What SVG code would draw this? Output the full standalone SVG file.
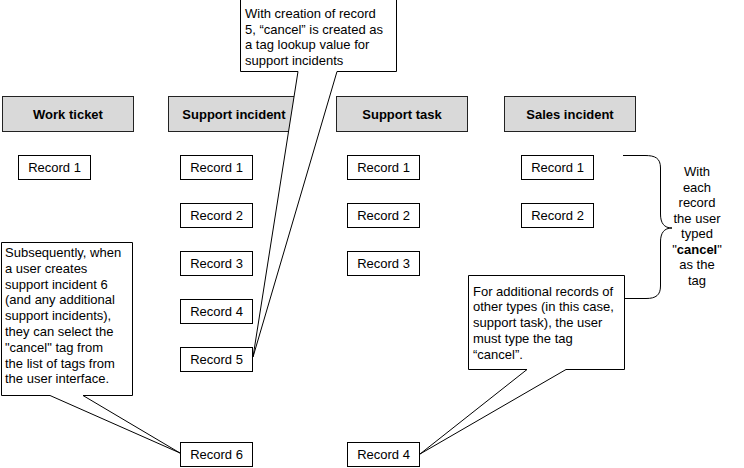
<svg xmlns="http://www.w3.org/2000/svg" width="744" height="468" viewBox="0 0 744 468">
<style>
  .hdr rect { fill: #d9d9d9; stroke: #222; stroke-width: 1; }
  .hdr text { font-family: "Liberation Sans", Arial, sans-serif; font-size: 13px; font-weight: bold; text-anchor: middle; fill: #000; }
  .rec rect { fill: #fff; stroke: #000; stroke-width: 1; }
  .rec text { font-family: "Liberation Sans", Arial, sans-serif; font-size: 13px; text-anchor: middle; fill: #000; }
  .call path { fill: #fff; stroke: #000; stroke-width: 1; }
  .call text, .note text { font-family: "Liberation Sans", Arial, sans-serif; font-size: 13px; fill: #000; }
  .note text { text-anchor: middle; }
  .brace { fill: none; stroke: #000; stroke-width: 1; }
</style>

<!-- Headers -->
<g id="hdr-work-ticket" class="hdr"><rect x="2.5" y="96.5" width="131" height="35"/><text x="68" y="119">Work ticket</text></g>
<g id="hdr-support-incident" class="hdr"><rect x="168.5" y="96.5" width="131" height="35"/><text x="234" y="119">Support incident</text></g>
<g id="hdr-support-task" class="hdr"><rect x="336.5" y="96.5" width="131" height="35"/><text x="402" y="119">Support task</text></g>
<g id="hdr-sales-incident" class="hdr"><rect x="504.5" y="96.5" width="131" height="35"/><text x="570" y="119">Sales incident</text></g>

<!-- Work ticket records -->
<g id="wt-r1" class="rec"><rect x="18.5" y="155.5" width="72" height="24"/><text x="54.5" y="172">Record 1</text></g>

<!-- Support incident records -->
<g id="si-r1" class="rec"><rect x="180.5" y="155.5" width="72" height="24"/><text x="216.5" y="172">Record 1</text></g>
<g id="si-r2" class="rec"><rect x="180.5" y="203.5" width="72" height="24"/><text x="216.5" y="220">Record 2</text></g>
<g id="si-r3" class="rec"><rect x="180.5" y="251.5" width="72" height="24"/><text x="216.5" y="268">Record 3</text></g>
<g id="si-r4" class="rec"><rect x="180.5" y="299.5" width="72" height="24"/><text x="216.5" y="316">Record 4</text></g>
<g id="si-r5" class="rec"><rect x="180.5" y="347.5" width="72" height="24"/><text x="216.5" y="364">Record 5</text></g>
<g id="si-r6" class="rec"><rect x="180.5" y="442.5" width="72" height="24"/><text x="216.5" y="459">Record 6</text></g>

<!-- Support task records -->
<g id="st-r1" class="rec"><rect x="347.5" y="155.5" width="72" height="24"/><text x="383.5" y="172">Record 1</text></g>
<g id="st-r2" class="rec"><rect x="347.5" y="203.5" width="72" height="24"/><text x="383.5" y="220">Record 2</text></g>
<g id="st-r3" class="rec"><rect x="347.5" y="251.5" width="72" height="24"/><text x="383.5" y="268">Record 3</text></g>
<g id="st-r4" class="rec"><rect x="347.5" y="442.5" width="72" height="24"/><text x="383.5" y="459">Record 4</text></g>

<!-- Sales incident records -->
<g id="sa-r1" class="rec"><rect x="521.5" y="155.5" width="72" height="24"/><text x="557.5" y="172">Record 1</text></g>
<g id="sa-r2" class="rec"><rect x="521.5" y="203.5" width="72" height="24"/><text x="557.5" y="220">Record 2</text></g>

<!-- Connectors (brace) -->
<g id="connectors">
  <path class="brace" d="M623,155.5 H645 C655,155.5 660.5,158 660.5,168 V214 C660.5,223 664,228 672,228 C664,228 660.5,233 660.5,242 V286 C660.5,295 656,298.5 646,298.5 H624"/>
</g>

<!-- Brace note -->
<g id="note-each-record" class="note">
  <text x="697" y="176">With</text>
  <text x="697" y="191.5">each</text>
  <text x="697" y="207">record</text>
  <text x="697" y="222.5">the user</text>
  <text x="697" y="238">typed</text>
  <text x="697" y="253.5">"<tspan font-weight="bold">cancel</tspan>"</text>
  <text x="697" y="269">as the</text>
  <text x="697" y="284.5">tag</text>
</g>

<!-- Callout 1 -->
<g id="callout-record5" class="call">
  <path d="M240.5,-1 H396.5 V71.5 H337 L253,357 L298,71.5 H240.5 Z"/>
  <text x="245" y="18">With creation of record</text>
  <text x="245" y="33.5">5, “cancel” is created as</text>
  <text x="245" y="49">a tag lookup value for</text>
  <text x="245" y="64.5">support incidents</text>
</g>

<!-- Callout 2 -->
<g id="callout-record6" class="call">
  <path d="M1.5,242.5 H132.5 V395.5 H83 L180,453 L50,395.5 H1.5 Z"/>
  <text x="5" y="257">Subsequently, when</text>
  <text x="5" y="272.8">a user creates</text>
  <text x="5" y="288.6">support incident 6</text>
  <text x="5" y="304.4">(and any additional</text>
  <text x="5" y="320.2">support incidents),</text>
  <text x="5" y="336">they can select the</text>
  <text x="5" y="351.8">"cancel" tag from</text>
  <text x="5" y="367.6">the list of tags from</text>
  <text x="5" y="383.4">the user interface.</text>
</g>

<!-- Callout 3 -->
<g id="callout-task4" class="call">
  <path d="M468.5,275.5 H624.5 V369.5 H566 L420,454 L527,369.5 H468.5 Z"/>
  <text x="473" y="295.5">For additional records of</text>
  <text x="473" y="311.3">other types (in this case,</text>
  <text x="473" y="327.1">support task), the user</text>
  <text x="473" y="342.9">must type the tag</text>
  <text x="473" y="358.7">“cancel”.</text>
</g>
</svg>
